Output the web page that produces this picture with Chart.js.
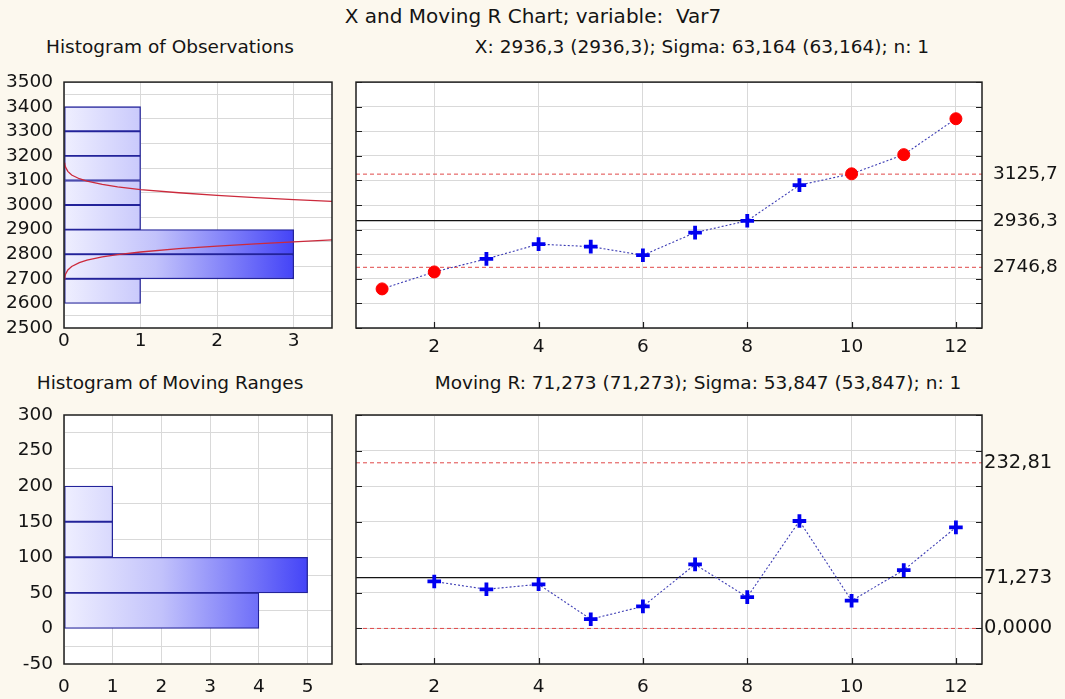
<!DOCTYPE html>
<html><head><meta charset="utf-8">
<script src="https://cdn.jsdelivr.net/npm/chart.js@4.4.1/dist/chart.umd.min.js"></script>
<style>
html,body{margin:0;padding:0;background:#fcf8ee;}
#wrap{position:relative;width:1065px;height:699px;overflow:hidden;background:#fcf8ee;font-family:"DejaVu Sans",sans-serif;color:#141414;}
.t{position:absolute;white-space:nowrap;transform:translateX(-50%);font-size:18.5px;line-height:22px;}
canvas{position:absolute;}
</style></head><body>
<div id="wrap">
<div class="t" style="left:533px;top:5px;font-size:20px;">X and Moving R Chart; variable:&nbsp; Var7</div>
<div class="t" style="left:170px;top:36px;">Histogram of Observations</div>
<div class="t" style="left:702px;top:36px;">X: 2936,3 (2936,3); Sigma: 63,164 (63,164); n: 1</div>
<div class="t" style="left:170px;top:372px;">Histogram of Moving Ranges</div>
<div class="t" style="left:698px;top:372px;">Moving R: 71,273 (71,273); Sigma: 53,847 (53,847); n: 1</div>
<canvas id="c1" width="345" height="300" style="left:0;top:60px"></canvas>
<canvas id="c2" width="720" height="300" style="left:345px;top:60px"></canvas>
<canvas id="c3" width="345" height="339" style="left:0;top:360px"></canvas>
<canvas id="c4" width="720" height="339" style="left:345px;top:360px"></canvas>
</div>
<script>
// ---------- data ----------
const obsIndex  = [1,2,3,4,5,6,7,8,9,10,11,12];
const obsValues = [2659,2728,2781,2841,2831,2796,2888,2936,3081,3127,3205,3351];
const xLimits      = [2746.8, 2936.3, 3125.7];          // LCL, centre, UCL
const xLimitLabels = ['2746,8', '2936,3', '3125,7'];

const mrIndex  = [2,3,4,5,6,7,8,9,10,11,12];
const mrValues = [66,55,62,13,31,90,44,151,39,82,142];
const mrLimits      = [0, 71.273, 232.81];
const mrLimitLabels = ['0,0000', '71,273', '232,81'];

const obsBinStart = [2600,2700,2800,2900,3000,3100,3200,3300];
const obsBinWidth = 100;
const obsCounts   = [1,3,3,1,1,1,1,1];

const mrBinStart = [0,50,100,150];
const mrBinWidth = 50;
const mrCounts   = [4,5,1,1];

// tick labels
const sampleTicks  = [2,4,6,8,10,12];
const obsHistTicks = [0,1,2,3];
const mrHistTicks  = [0,1,2,3,4,5];

// fitted normal curve as drawn on the observation histogram (count, value)
const curveLowCount  = [0,0.01,0.02,0.05,0.1,0.2,0.3,0.5,0.7,1,1.5,2,2.5,3,3.5];
const curveLowValue  = [2700,2706,2719,2736,2750,2766,2776,2789,2798,2809,2823,2833,2842,2850,2858];
const curveHighCount = [0,0.01,0.02,0.05,0.1,0.2,0.3,0.5,0.7,1,1.5,2,2.5,3,3.5];
const curveHighValue = [3172,3166,3154,3137,3122,3107,3097,3084,3074,3063,3050,3039,3030,3022,3015];

// ---------- style ----------
Chart.defaults.font.family = '"DejaVu Sans", sans-serif';
Chart.defaults.font.size = 18.5;
Chart.defaults.color = '#141414';
Chart.defaults.animation = false;
Chart.defaults.plugins.legend.display = false;
Chart.defaults.plugins.tooltip.enabled = false;
const GRID = '#d9d9d9';
const plain = v => String(v);

const framePlugin = {
  id: 'frame',
  beforeDraw(chart) {
    const {ctx, chartArea: a} = chart;
    ctx.save(); ctx.fillStyle = '#ffffff';
    ctx.fillRect(a.left, a.top, a.right - a.left, a.bottom - a.top);
    ctx.restore();
  },
  afterDraw(chart, args, opts) {
    const {ctx, chartArea: a} = chart;
    ctx.save();
    ctx.strokeStyle = '#1e1e1e';
    if (opts && opts.ticks) {
      ctx.lineWidth = 1.2;
      const ys = chart.scales.y, xs = chart.scales.x, L = 6;
      ctx.beginPath();
      ys.ticks.forEach(t => { const p = Math.round(ys.getPixelForValue(t.value)) + 0.5;
        ctx.moveTo(a.left, p); ctx.lineTo(a.left + L, p);
        ctx.moveTo(a.right, p); ctx.lineTo(a.right - L, p); });
      xs.ticks.forEach(t => { const p = Math.round(xs.getPixelForValue(t.value)) + 0.5;
        ctx.moveTo(p, a.bottom); ctx.lineTo(p, a.bottom - L); });
      ctx.stroke();
    }
    ctx.lineWidth = 1.5;
    ctx.strokeRect(a.left, a.top, a.right - a.left, a.bottom - a.top);
    ctx.restore();
  }
};

function histChart(id, binStart, binWidth, counts, yMin, yMax, yStep, xMax, xTicks, curves, lay) {
  const maxCount = Math.max(...counts);
  const datasets = [{
    type: 'bar', indexAxis: 'y', order: 2,
    data: binStart.map((s, i) => ({ y: s + binWidth / 2, x: counts[i] })),
    backgroundColor: (c) => {
      const ch = c.chart, a = ch.chartArea; if (!a) return '#c0c0fa';
      const xs = ch.scales.x;
      const g = ch.ctx.createLinearGradient(xs.getPixelForValue(0), 0, xs.getPixelForValue(maxCount), 0);
      g.addColorStop(0, '#efefff'); g.addColorStop(0.4, '#c2c2fb'); g.addColorStop(1, '#4444f7');
      return g;
    },
    borderColor: '#23239a', borderWidth: 1.3, borderSkipped: false,
    barPercentage: 1, categoryPercentage: 1
  }];
  curves.forEach(cv => datasets.push({
    type: 'line', indexAxis: 'y', order: 1,
    data: cv.count.map((c, i) => ({ x: c, y: cv.value[i] })),
    borderColor: '#cc2a3c', borderWidth: 1.3, pointRadius: 0, fill: false, tension: 0
  }));
  return new Chart(document.getElementById(id), {
    type: 'bar',
    data: { datasets },
    plugins: [framePlugin],
    options: {
      responsive: false, indexAxis: 'y',
      layout: { autoPadding: false, padding: { top: lay.top, right: 13, left: 0, bottom: 0 } },
      plugins: { frame: { ticks: false } },
      scales: {
        x: { type: 'linear', min: 0, max: xMax, offset: false,
             ticks: { padding: lay.xpad, maxRotation: 0, autoSkip: false, callback: plain },
             grid: { color: GRID, drawTicks: false }, border: { display: false },
             afterBuildTicks: s => { s.ticks = xTicks.map(v => ({ value: v })); },
             afterFit: s => { s.height = lay.xh; } },
        y: { type: 'linear', min: yMin, max: yMax, offset: false,
             ticks: { stepSize: yStep, padding: 11, autoSkip: false, callback: plain },
             grid: { color: GRID, drawTicks: false }, border: { display: false },
             afterFit: s => { s.width = 64; } }
      }
    }
  });
}

function controlChart(id, idx, vals, limits, limitLabels, yMin, yMax, yStep, lay) {
  const xMin = 0.5, xMax = 12.5;
  const lcl = limits[0], ucl = limits[2];
  const alarm = vals.map(v => v > ucl || v < lcl);
  const datasets = [{
    data: idx.map((x, i) => ({ x, y: vals[i] })), yAxisID: 'y', order: 1,
    borderColor: '#3c3cb4', borderWidth: 1.1, borderDash: [2, 2],
    pointStyle: alarm.map(a => a ? 'circle' : 'cross'),
    pointRadius: alarm.map(a => a ? 6 : 6.8),
    pointBorderWidth: alarm.map(a => a ? 1 : 3.8),
    pointBackgroundColor: alarm.map(a => a ? '#ff0000' : '#0000f0'),
    pointBorderColor: alarm.map(a => a ? '#ff0000' : '#0000f0')
  }];
  limits.forEach((L, i) => datasets.push({
    data: [{ x: xMin, y: L }, { x: xMax, y: L }], yAxisID: 'y', order: 2,
    borderColor: i === 1 ? '#141414' : '#e04848', borderWidth: i === 1 ? 1.2 : 1,
    borderDash: i === 1 ? [] : [4, 3], pointRadius: 0
  }));
  return new Chart(document.getElementById(id), {
    type: 'line',
    data: { datasets },
    plugins: [framePlugin],
    options: {
      responsive: false,
      layout: { autoPadding: false, padding: { top: lay.top, right: 0, left: 0, bottom: 0 } },
      plugins: { frame: { ticks: true } },
      scales: {
        x: { type: 'linear', min: xMin, max: xMax, offset: false,
             ticks: { padding: lay.xpad, maxRotation: 0, autoSkip: false, callback: plain },
             grid: { color: GRID, drawTicks: false }, border: { display: false },
             afterBuildTicks: s => { s.ticks = sampleTicks.map(v => ({ value: v })); },
             afterFit: s => { s.height = lay.xh; } },
        y: { type: 'linear', position: 'left', min: yMin, max: yMax,
             ticks: { display: false, stepSize: yStep },
             grid: { color: GRID, drawTicks: false }, border: { display: false },
             afterFit: s => { s.width = 11; } },
        y2: { type: 'linear', position: 'right', min: yMin, max: yMax,
              grid: { drawOnChartArea: false, drawTicks: false }, border: { display: false },
              ticks: { padding: lay.rpad, autoSkip: false, font: { size: lay.rsize },
                       callback: (v, i) => limitLabels[i] },
              afterBuildTicks: s => { s.ticks = limits.map(v => ({ value: v })); },
              afterFit: s => { s.width = 83; } }
      }
    }
  });
}

histChart('c1', obsBinStart, obsBinWidth, obsCounts, 2500, 3500, 100, 3.5, obsHistTicks,
  [{ count: curveLowCount, value: curveLowValue }, { count: curveHighCount, value: curveHighValue }],
  { top: 18, xh: 32, xpad: 2 });
controlChart('c2', obsIndex, obsValues, xLimits, xLimitLabels, 2500, 3500, 100,
  { top: 18, xh: 32, xpad: 8, rpad: 11, rsize: 18.5 });
histChart('c3', mrBinStart, mrBinWidth, mrCounts, -50, 300, 50, 5.5, mrHistTicks, [],
  { top: 55, xh: 35, xpad: 12 });
controlChart('c4', mrIndex, mrValues, mrLimits, mrLimitLabels, -50, 300, 50,
  { top: 55, xh: 35, xpad: 12, rpad: 2, rsize: 19.5 });
</script>
</body></html>
